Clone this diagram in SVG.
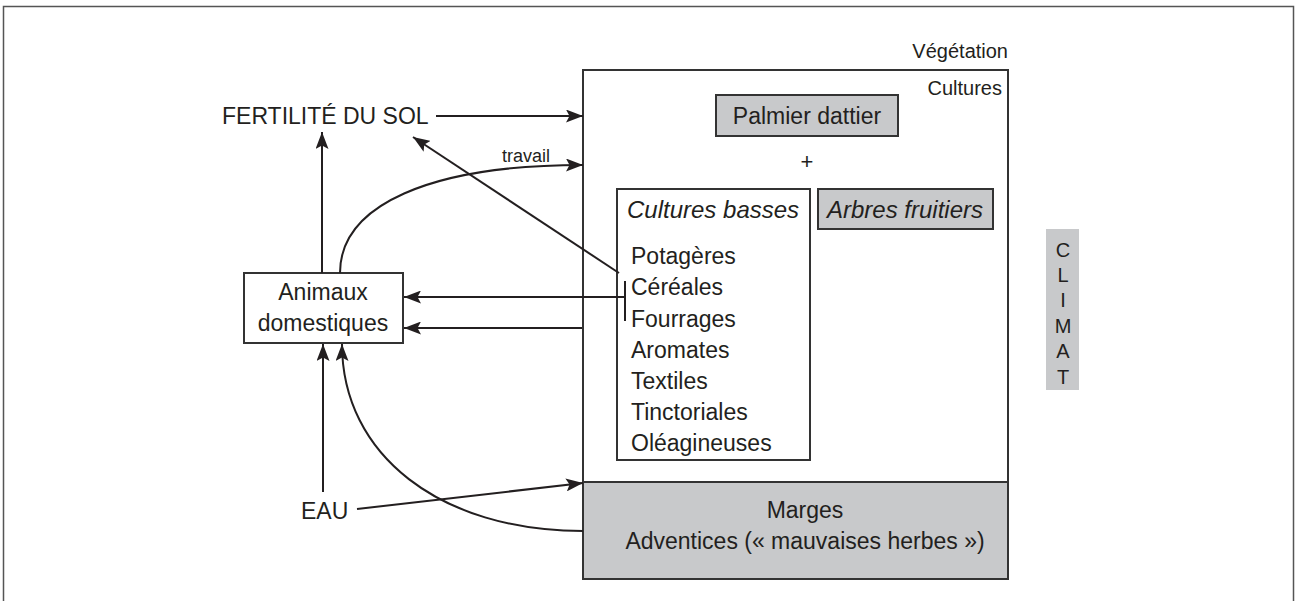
<svg xmlns="http://www.w3.org/2000/svg" width="1297" height="601" viewBox="0 0 1297 601">
<style>
text{font-family:"Liberation Sans",Arial,sans-serif;fill:#231f20}
.box{fill:#fff;stroke:#333;stroke-width:2}
.grey{fill:#c8c9cb;stroke:#333;stroke-width:2}
.c{fill:none;stroke:#231f20;stroke-width:2}
.lbl{font-size:23px}
.it{font-style:italic;font-size:24px}
</style>
<defs>
<marker id="ah" markerUnits="userSpaceOnUse" markerWidth="17" markerHeight="13" refX="17" refY="6.5" orient="auto">
<path d="M0,0 L17,6.5 L0,13 L3.5,6.5 z" fill="#231f20"/>
</marker>
</defs>
<rect x="3.5" y="6.5" width="1290" height="700" fill="none" stroke="#555" stroke-width="1.5"/>
<g id="vegetation">
<text x="1008" y="58" font-size="20" text-anchor="end">Végétation</text>
</g>
<g id="cultures">
<rect class="box" x="583" y="70" width="425" height="412"/>
<text x="1002" y="95" font-size="20" text-anchor="end">Cultures</text>
<text x="807" y="169" font-size="22" text-anchor="middle">+</text>
</g>
<g id="palmier">
<rect class="grey" x="716" y="95" width="182" height="41"/>
<text class="lbl" x="807" y="124" text-anchor="middle">Palmier dattier</text>
</g>
<g id="arbres">
<rect class="grey" x="818" y="189" width="175" height="40"/>
<text class="it" x="905" y="218" text-anchor="middle">Arbres fruitiers</text>
</g>
<g id="cultures-basses">
<rect class="box" x="617" y="189" width="193" height="271"/>
<text class="it" x="627" y="218">Cultures basses</text>
<text class="lbl" x="631" y="264">Potagères</text>
<text class="lbl" x="631" y="295">Céréales</text>
<text class="lbl" x="631" y="327">Fourrages</text>
<text class="lbl" x="631" y="358">Aromates</text>
<text class="lbl" x="631" y="389">Textiles</text>
<text class="lbl" x="631" y="420">Tinctoriales</text>
<text class="lbl" x="631" y="451">Oléagineuses</text>
</g>
<g id="marges">
<rect class="grey" x="583" y="482" width="425" height="97"/>
<text class="lbl" x="805" y="518" text-anchor="middle">Marges</text>
<text class="lbl" x="805" y="549" text-anchor="middle">Adventices (« mauvaises herbes »)</text>
</g>
<g id="climat">
<rect x="1046" y="229" width="33" height="161" fill="#c8c9cb"/>
<g font-size="20" text-anchor="middle">
<text x="1063" y="257">C</text>
<text x="1063" y="282">L</text>
<text x="1063" y="307">I</text>
<text x="1063" y="333">M</text>
<text x="1063" y="358">A</text>
<text x="1063" y="384">T</text>
</g>
</g>
<g id="fertilite">
<text class="lbl" x="222" y="124">FERTILITÉ DU SOL</text>
</g>
<g id="animaux">
<rect class="box" x="244" y="273" width="159" height="70"/>
<text class="lbl" x="323" y="300" text-anchor="middle">Animaux</text>
<text class="lbl" x="323" y="331" text-anchor="middle">domestiques</text>
</g>
<g id="eau">
<text class="lbl" x="301" y="519">EAU</text>
</g>
<g id="connectors">
<line class="c" x1="436" y1="116" x2="583" y2="116" marker-end="url(#ah)"/>
<path class="c" d="M340,273 C340,205 430,165 583,165" marker-end="url(#ah)"/>
<text x="502" y="162" font-size="18">travail</text>
<line class="c" x1="619" y1="273" x2="413" y2="137" marker-end="url(#ah)"/>
<line class="c" x1="625" y1="281" x2="625" y2="321"/>
<line class="c" x1="625" y1="297" x2="404" y2="297" marker-end="url(#ah)"/>
<line class="c" x1="582" y1="328" x2="404" y2="328" marker-end="url(#ah)"/>
<line class="c" x1="322" y1="273" x2="322" y2="132" marker-end="url(#ah)"/>
<line class="c" x1="323" y1="492" x2="323" y2="344" marker-end="url(#ah)"/>
<line class="c" x1="357" y1="509" x2="583" y2="483" marker-end="url(#ah)"/>
<path class="c" d="M583,531 C440,531 342,455 342,344" marker-end="url(#ah)"/>
</g>
</svg>
